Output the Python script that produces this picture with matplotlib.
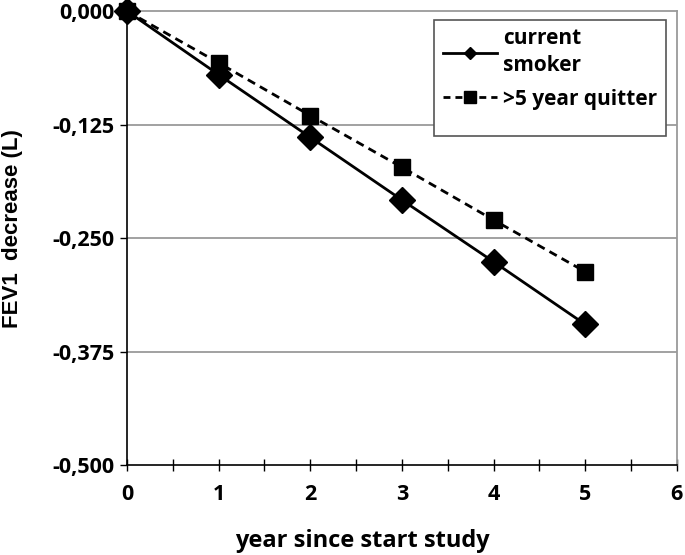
import matplotlib
matplotlib.use("Agg")
import matplotlib.pyplot as plt
from matplotlib.lines import Line2D
from matplotlib.patches import Rectangle
from matplotlib.ticker import MultipleLocator

years = [0, 1, 2, 3, 4, 5]
smoker = [0.0, -0.070, -0.139, -0.208, -0.276, -0.345]
quitter = [0.0, -0.057, -0.115, -0.172, -0.230, -0.287]
yticks = [0.0, -0.125, -0.25, -0.375, -0.5]
ytick_labels = ["0,000", "-0,125", "-0,250", "-0,375", "-0,500"]
xticks = [0, 1, 2, 3, 4, 5, 6]
labels = ["current\nsmoker", ">5 year quitter"]

fig = plt.figure(figsize=(6.85, 5.55), dpi=100)
ax = fig.add_axes([0.1854, 0.162, 0.8026, 0.818])

FAM = ["Open Sans", "DejaVu Sans"]
tickfont = dict(family=FAM, weight="bold", size=15.5)

ax.plot(years, smoker, color="black", lw=2.0, marker="D", markersize=13,
        zorder=3, clip_on=False)
ax.plot(years, quitter, color="black", lw=2.0, ls=(0, (3, 2)), marker="s",
        markersize=12, zorder=3, clip_on=False)

ax.set_xlim(0, 6)
ax.set_ylim(-0.5, 0.0)
ax.set_xticks(xticks)
ax.set_xticklabels([str(t) for t in xticks], fontdict=tickfont)
ax.xaxis.set_minor_locator(MultipleLocator(0.5))
ax.set_yticks(yticks)
ax.set_yticklabels(ytick_labels, fontdict=tickfont)

for y in yticks[1:-1]:
    ax.axhline(y, color="#9a9a9a", lw=1.3, zorder=1)

ax.spines["left"].set_color("black")
ax.spines["bottom"].set_color("black")
ax.spines["left"].set_linewidth(1.2)
ax.spines["bottom"].set_linewidth(1.2)
ax.spines["top"].set_color("#9a9a9a")
ax.spines["right"].set_color("#9a9a9a")
ax.spines["top"].set_linewidth(1.3)
ax.spines["right"].set_linewidth(1.3)

ax.tick_params(axis="x", which="both", direction="inout", length=9, width=1.0,
               pad=9)
ax.tick_params(axis="y", which="major", direction="out", length=5, width=1.0,
               pad=4)

ax.set_xlabel("year since start study", fontsize=17, fontweight="bold",
              family=FAM)
ax.xaxis.set_label_coords(0.429, -0.140)
ax.set_ylabel("FEV1  decrease (L)", fontsize=16, fontweight="bold",
              family=["Liberation Sans", "DejaVu Sans"])
ax.yaxis.set_label_coords(-0.190, 0.522)

# legend frame (Excel-style box with empty bottom space)
ax.add_patch(Rectangle((0.558, 0.725), 0.423, 0.255, transform=ax.transAxes,
                       facecolor="white", edgecolor="#555555", lw=1.2,
                       zorder=4, clip_on=False))

handles = [
    Line2D([], [], color="black", lw=2.0, marker="D", markersize=6),
    Line2D([], [], color="black", lw=2.0, ls=(0, (2.5, 1.8)), marker="s",
           markersize=8),
]
leg = ax.legend(handles, labels, loc="upper left",
                bbox_to_anchor=(0.567, 0.971), frameon=False,
                handlelength=2.6, handletextpad=0.3, borderpad=0.2,
                labelspacing=0.6, borderaxespad=0.0,
                prop=dict(family=FAM, weight="bold", size=15))
leg.get_texts()[0].set_linespacing(1.35)
leg.set_zorder(5)

fig.savefig("out.png", dpi=100)
